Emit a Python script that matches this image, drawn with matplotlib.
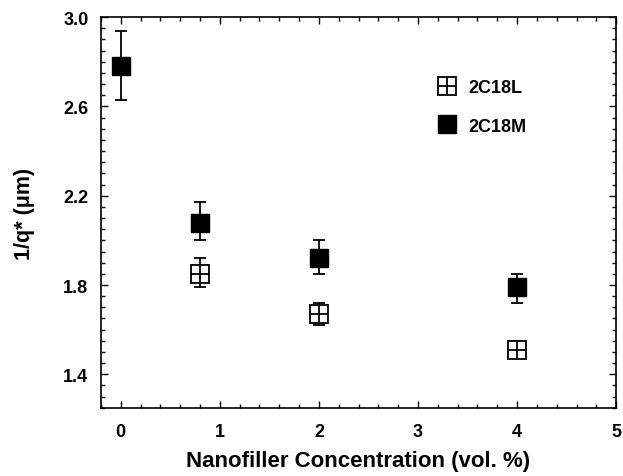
import matplotlib.pyplot as plt
from matplotlib.lines import Line2D
from matplotlib.ticker import MultipleLocator

plt.rcParams['font.family'] = ['Liberation Sans', 'DejaVu Sans']
plt.rcParams['font.weight'] = 'bold'

# 2C18M (filled squares)
m_x = [0, 0.8, 2, 4]
m_y = [2.78, 2.08, 1.92, 1.79]
m_lo = [2.63, 2.00, 1.85, 1.72]
m_hi = [2.94, 2.17, 2.00, 1.85]

# 2C18L (open squares with cross)
l_x = [0.8, 2, 4]
l_y = [1.85, 1.67, 1.51]
l_lo = [1.79, 1.62, 1.48]
l_hi = [1.92, 1.72, 1.55]

fig = plt.figure(figsize=(6.23, 4.77), dpi=100)
ax = fig.add_axes([0.162, 0.143, 0.827, 0.819])

ms = 12.5

# error bars
ax.errorbar(m_x, m_y, yerr=[[y - lo for y, lo in zip(m_y, m_lo)], [hi - y for y, hi in zip(m_y, m_hi)]],
            fmt='none', ecolor='black', elinewidth=1.3, capsize=4, capthick=1.3, zorder=2)
ax.errorbar(l_x, l_y, yerr=[[y - lo for y, lo in zip(l_y, l_lo)], [hi - y for y, hi in zip(l_y, l_hi)]],
            fmt='none', ecolor='black', elinewidth=1.3, capsize=4, capthick=1.3, zorder=2)

# markers
ax.plot(m_x, m_y, 's', ms=ms, mfc='black', mec='black', ls='none', zorder=3)
ax.plot(l_x, l_y, 's', ms=ms, mfc='white', mec='black', mew=1.3, ls='none', zorder=3)
ax.plot(l_x, l_y, '+', ms=ms, mec='black', mew=1.3, ls='none', zorder=4)

ax.set_xlim(-0.2, 5)
ax.set_ylim(1.25, 3.0)
ax.xaxis.set_major_locator(MultipleLocator(1))
ax.xaxis.set_minor_locator(MultipleLocator(0.2))
ax.yaxis.set_minor_locator(MultipleLocator(0.05))
ax.set_yticks([1.4, 1.8, 2.2, 2.6, 3.0])
ax.set_yticklabels(['1.4', '1.8', '2.2', '2.6', '3.0'])
ax.tick_params(which='both', direction='in', top=True, right=True, width=1.0,
               labelsize=13)
ax.tick_params(axis='y', pad=9)
ax.tick_params(axis='x', pad=11)
ax.tick_params(which='major', length=5)
ax.tick_params(which='minor', length=2.7)
for s in ax.spines.values():
    s.set_linewidth(1.2)

ax.set_xlabel('Nanofiller Concentration (vol. %)', fontsize=16, fontweight='bold', labelpad=7)
ax.set_ylabel('1/q* (\u03bcm)', fontsize=15.5, fontweight='bold', labelpad=20)

# legend
h_l = Line2D([], [], marker='s', ms=ms, mfc='white', mec='black', mew=1.3, ls='none')
h_l2 = Line2D([], [], marker='+', ms=ms, mec='black', mew=1.3, ls='none')
h_m = Line2D([], [], marker='s', ms=ms, mfc='black', mec='black', ls='none')
ax.legend([(h_l, h_l2), h_m], ['2C18L', '2C18M'], loc='center left',
          bbox_to_anchor=(0.633, 0.77), frameon=False, fontsize=13, borderpad=0,
          handletextpad=0.58, labelspacing=1.2, handlelength=1.2)

fig.savefig('out.png', dpi=100)
